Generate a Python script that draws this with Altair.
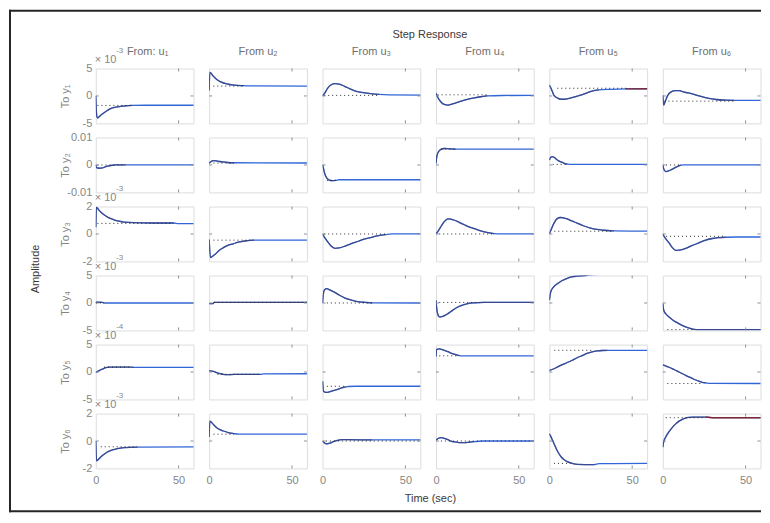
import altair as alt
import pandas as pd

# ---------------- values ----------------
T_END = 59
X_TICKS = [0, 50]
TITLE = "Step Response"
X_TITLE = "Time (sec)"
Y_TITLE = "Amplitude"
FROM_LABELS = ["From: u₁", "From u₂", "From u₃", "From u₄", "From u₅", "From u₆"]
TO_LABELS = ["To y₁", "To y₂", "To y₃", "To y₄", "To y₅", "To y₆"]
Y_LIMITS = [5, 0.01, 2, 5, 5, 2]
Y_LABELS = [["-5", "0", "5"], ["-0.01", "0", "0.01"], ["-2", "0", "2"],
            ["-5", "0", "5"], ["-5", "0", "5"], ["-2", "0", "2"]]
EXPONENTS = ["-3", "", "-3", "-3", "-4", "-3"]

# step responses (time, amplitude in the units of each row's axis)
S11 = [[0, 0], [0.3, -2.5], [0.9, -4.0], [2, -3.8], [3.5, -3.4], [5, -3.05], [7, -2.65], [9, -2.3],
       [12, -2.05], [15, -1.9], [18, -1.8], [22, -1.73], [30, -1.7], [61, -1.7]]
S12 = [[0, 1.0], [0.4, 4.3], [1, 4.2], [2.5, 3.6], [4.6, 3.0], [7, 2.55], [10.6, 2.2], [14, 2.0],
       [17, 1.92], [21, 1.87], [25, 1.82], [61, 1.8]]
S13 = [[0, 0], [1.5, 0.6], [3, 1.4], [5, 2.0], [7.6, 2.24], [10, 2.15], [13, 1.8], [17.6, 1.16],
       [21, 0.8], [25.7, 0.55], [30, 0.38], [34, 0.28], [40, 0.2], [61, 0.15]]
S14 = [[0, 0.5], [1, -0.2], [3, -1.1], [5, -1.55], [7.2, -1.67], [10, -1.45], [15.2, -0.95],
       [19, -0.62], [23.2, -0.35], [27, -0.15], [31, 0.0], [40, 0.08], [61, 0.1]]
S15 = [[0, 2.0], [1, 1.4], [2.8, 0.1], [5, -0.4], [7, -0.6], [9, -0.6], [12, -0.45], [16.8, -0.05],
       [20, 0.25], [23, 0.6], [26.8, 0.95], [30, 1.1], [36.8, 1.2], [46, 1.28], [61, 1.3]]
S16 = [[0, 0.1], [0.6, -1.67], [1.5, -1.0], [3, 0.1], [5, 0.75], [7.8, 0.98], [10, 0.95], [13, 0.7],
       [17.8, 0.38], [22, 0.0], [27.8, -0.46], [32, -0.65], [37.9, -0.77], [43, -0.8], [61, -0.8]]

S21 = [[0, 0], [0.5, -0.0010], [2, -0.0012], [4, -0.0011], [6, -0.0006], [9, -0.0002], [12, 0], [18, 0], [61, 0]]
S22 = [[0, 0.0006], [1, 0.0012], [2.6, 0.0016], [5, 0.0014], [8, 0.0011], [11, 0.0009],
       [15, 0.0008], [61, 0.0007]]
S23 = [[0, 0], [0.5, -0.0012], [1.5, -0.0035], [2.6, -0.0048], [4, -0.0055], [5.5, -0.0057],
       [8, -0.0056], [10, -0.0054], [61, -0.0054]]
S24 = [[0, 0.0006], [0.5, 0.0030], [1.5, 0.0048], [3.2, 0.0058], [5, 0.0060], [8, 0.0059],
       [12, 0.0058], [61, 0.0058]]
S25 = [[0, 0.0018], [0.8, 0.0028], [1.8, 0.0030], [3, 0.0027], [5, 0.0017], [7, 0.0011],
       [9, 0.0006], [11, 0.0003], [15, 0.0002], [61, 0.0002]]
S26 = [[0, 0], [0.6, -0.0015], [1.8, -0.0024], [3.5, -0.0022], [5.8, -0.0015], [8, -0.0008],
       [11, -0.0001], [13, 0], [61, 0]]

S31 = [[0, 0.5], [0.4, 1.95], [1.5, 1.8], [3, 1.6], [5, 1.4], [8, 1.17], [11, 1.03], [14, 0.93],
       [17, 0.86], [23, 0.82], [35, 0.8], [47, 0.8], [50, 0.76], [61, 0.75]]
S32 = [[0, -0.4], [0.8, -1.73], [2, -1.62], [3.6, -1.48], [6, -1.2], [8.6, -1.0], [11, -0.85],
       [14.6, -0.72], [17, -0.62], [20.6, -0.53], [27, -0.45], [61, -0.45]]
S33 = [[0, 0], [1.5, -0.3], [3.6, -0.65], [5.5, -0.92], [7.6, -1.05], [10, -1.02], [13.6, -0.88],
       [17, -0.72], [21.6, -0.53], [25, -0.38], [29.6, -0.24], [33, -0.14], [38, -0.05], [42, 0], [61, 0]]
S34 = [[0, 0], [1.5, 0.25], [3.2, 0.58], [5, 0.9], [7.2, 1.1], [9, 1.08], [11.2, 1.0], [14, 0.85],
       [17.2, 0.67], [20, 0.52], [23.2, 0.39], [26, 0.26], [29.2, 0.15], [35, 0.03], [40, 0], [61, 0]]
S35 = [[0, 0], [1, 0.3], [2.8, 0.79], [4.5, 1.1], [6.8, 1.2], [8.5, 1.18], [10.8, 1.1], [13.5, 0.95],
       [16.8, 0.79], [20.5, 0.6], [24.8, 0.43], [28.5, 0.33], [32.8, 0.27], [39, 0.22], [61, 0.2]]
S36 = [[0, 0], [1.5, -0.3], [3.8, -0.65], [5.8, -1.0], [7.8, -1.2], [10, -1.18], [13.8, -1.05],
       [17.5, -0.85], [21.8, -0.65], [25.5, -0.47], [29.9, -0.33], [33.5, -0.27], [38, -0.24],
       [45, -0.22], [61, -0.22]]

S41 = [[0, 0], [0.5, 0.15], [4, 0.1], [5, 0], [61, 0]]
S42 = [[0, -0.1], [2.4, -0.1], [3, 0.12], [61, 0.12]]
S43 = [[0, 0], [0.4, 1.5], [1.2, 2.4], [2.6, 2.6], [4, 2.45], [5.5, 2.2], [7.6, 1.9], [10, 1.45],
       [13.6, 0.9], [16.5, 0.6], [19.6, 0.36], [22.5, 0.2], [25.6, 0.12], [30, 0.03], [61, 0]]
S44 = [[0, 0.5], [0.6, -1.33], [1.4, -2.3], [2.2, -2.55], [4, -2.45], [7.2, -1.94], [10, -1.35],
       [13.2, -0.73], [16, -0.38], [19.2, -0.12], [23, 0.02], [29, 0.1], [61, 0.1]]
S45 = [[0, 0.5], [0.8, 2.0], [2.5, 2.9], [4.8, 3.5], [7.5, 4.05], [10.8, 4.5], [13.5, 4.75],
       [16.8, 4.9], [23, 5.05], [30, 5.2], [40, 5.3], [61, 5.3]]
S46 = [[0, -0.1], [0.6, -1.33], [2, -2.05], [3.8, -2.55], [5.8, -3.05], [7.8, -3.45], [10.8, -3.95],
       [13.8, -4.36], [16, -4.6], [18.8, -4.8], [22, -4.85], [61, -4.85]]

S51 = [[0, 0], [1.5, 0.15], [3, 0.42], [5, 0.68], [7, 0.83], [9, 0.88], [11, 0.9], [20, 0.9],
       [23, 0.85], [61, 0.83]]
S52 = [[0, 0.25], [2.6, 0.1], [4.5, -0.1], [6.6, -0.3], [8.5, -0.42], [10.6, -0.48], [15, -0.45],
       [31, -0.42], [33, -0.33], [61, -0.32]]
S53 = [[0, -1.7], [0.6, -3.5], [2, -3.7], [3.6, -3.66], [5.5, -3.5], [7.6, -3.3], [9.5, -3.1],
       [11.6, -2.9], [14, -2.72], [15.6, -2.64], [20, -2.6], [61, -2.6]]
S54 = [[0, 2.8], [0.4, 4.1], [2, 4.2], [4.5, 4.0], [7.2, 3.7], [10, 3.35], [14, 3.0], [16, 2.95], [61, 2.95]]
S55 = [[0, 0.3], [2, 0.5], [4.8, 0.9], [7.5, 1.3], [10.8, 1.73], [13.8, 2.15], [16.8, 2.6], [19.8, 3.0],
       [22.8, 3.4], [25.8, 3.68], [28.8, 3.84], [31.8, 3.92], [35, 3.96], [61, 3.96]]
S56 = [[0, 1.3], [1.8, 1.1], [3.8, 0.87], [6.8, 0.45], [9.8, 0], [12.8, -0.45], [15.8, -0.9],
       [18.8, -1.32], [21.8, -1.68], [23.8, -1.88], [26, -1.98], [29, -2.08], [61, -2.1]]

S61 = [[0, 0], [0.5, -1.45], [1.5, -1.35], [3, -1.16], [5, -0.97], [7, -0.8], [10, -0.65], [13, -0.55],
       [17, -0.48], [25, -0.44], [61, -0.42]]
S62 = [[0, 0.3], [0.4, 1.45], [1.5, 1.35], [3, 1.15], [4.6, 0.97], [6.5, 0.83], [8.6, 0.73],
       [11.5, 0.62], [15, 0.54], [18, 0.5], [61, 0.5]]
S63 = [[0, 0], [1, -0.12], [2.6, -0.2], [4.5, -0.15], [6.5, -0.05], [9, 0.05], [11.6, 0.1], [15, 0.1],
       [30, 0.08], [61, 0.08]]
S64 = [[0, 0.05], [1.5, 0.2], [3.2, 0.25], [5, 0.2], [7.2, 0.1], [9, 0.0], [11.2, -0.07], [14, -0.11],
       [17.2, -0.12], [20, -0.09], [23, -0.05], [28, 0], [61, 0]]
S65 = [[0, 0.53], [1, 0.3], [2.8, -0.2], [4.3, -0.6], [5.8, -0.93], [7.3, -1.18], [8.8, -1.34],
       [10.8, -1.5], [12.8, -1.6], [14.8, -1.67], [16.8, -1.7], [27, -1.72], [30, -1.65], [61, -1.63]]
S66 = [[0, -0.44], [0.5, -0.1], [1.8, 0.29], [3.8, 0.68], [5.8, 1.0], [7.8, 1.25], [9.8, 1.45],
       [11.8, 1.58], [13.8, 1.67], [15.8, 1.72], [17.8, 1.75], [26, 1.75], [30, 1.7], [61, 1.7]]

# steady-state (dotted) value per panel, row by row
SS1 = [-1.73, 1.8, 0.1, 0.2, 1.4, -0.95]
SS2 = [0, 0.0007, -0.0056, 0.0058, 0.0002, 0]
SS3 = [0.77, -0.45, 0, 0, 0.2, -0.17]
SS4 = [0, 0.12, 0, 0.1, 5.3, -4.85]
SS5 = [0.9, -0.42, -2.6, 2.95, 3.96, -2.1]
SS6 = [-0.42, 0.5, 0, 0, -1.63, 1.7]
# time span of the dotted line
DOT1 = [[1, 22], [2.5, 21], [1, 34], [1, 31], [4.8, 47], [1, 43]]
DOT2 = [[1, 18], [2.6, 15], [2.6, 8], [3.2, 12], [2, 11], [2, 11]]
DOT3 = [[1, 47], [2.6, 27], [1, 38], [2, 35], [3, 39], [2, 38]]
DOT4 = [[0, 5], [3, 61], [2.6, 30], [2, 29], [3, 61], [2.8, 18.8]]
DOT5 = [[5, 20], [5, 31], [2.6, 14], [2, 14], [3, 25.8], [2.8, 23.8]]
DOT6 = [[3, 25], [2.6, 15], [2, 61], [3, 61], [2.8, 12.8], [1.8, 26]]
# end of the darker (second system) trace
DARK1 = [22, 21, 34, 31, 30, 43]
DARK2 = [18, 15, 8, 12, 11, 11]
DARK3 = [47, 27, 38, 35, 39, 38]
DARK4 = [5, 61, 30, 61, 23, 61]
DARK5 = [23, 31, 14, 14, 35, 26]
DARK6 = [25, 15, 30, 23, 27, 26]
# dark-red end segments
RED_SEGMENTS = {(0, 4): [46, 61], (5, 5): [26, 61]}

CURVES = [[S11, S12, S13, S14, S15, S16], [S21, S22, S23, S24, S25, S26],
          [S31, S32, S33, S34, S35, S36], [S41, S42, S43, S44, S45, S46],
          [S51, S52, S53, S54, S55, S56], [S61, S62, S63, S64, S65, S66]]
SS = [SS1, SS2, SS3, SS4, SS5, SS6]
DOT = [DOT1, DOT2, DOT3, DOT4, DOT5, DOT6]
DARK = [DARK1, DARK2, DARK3, DARK4, DARK5, DARK6]

# ---------------- style ----------------
FONT = "Liberation Sans"
PW, PH = 98, 55
COL_GAP, ROW_GAP = 15.7, 14.2
MID_X = 107.6          # centre of the figure, measured from the left edge of column 3
BLUE = "#3066d6"
DARKC = "#3d3d75"
REDC = "#7c2634"
DOTC = "#2a2a2a"
BORDER = "#8a929c"
LABEL = "#858585"
HEAD = "#6e6e6e"
TEXT = "#3a3a3a"
FRAMEC = "#262626"

one = pd.DataFrame({"k": [0]})


def note(text, x, y, size=11, color=LABEL, align="center", angle=0):
    kw = dict(align=align, baseline="middle", fontSize=size, font=FONT, color=color)
    if angle:
        kw["angle"] = angle
    return alt.Chart(one).mark_text(**kw).encode(x=alt.value(x), y=alt.value(y), text=alt.value(text))


def frame_bar(x1, y1, x2, y2):
    # one side of the outer figure border, drawn as a thin filled bar
    return alt.Chart(one).mark_rect(color=FRAMEC, strokeWidth=0).encode(
        x=alt.value(x1), y=alt.value(y1), x2=alt.value(x2), y2=alt.value(y2))


def panel(r, c):
    lim = Y_LIMITS[r]
    xs = alt.Scale(domain=[0, T_END], nice=False, zero=False)
    ys = alt.Scale(domain=[-lim, lim], nice=False, zero=False)
    if r == 5:
        xa = dict(values=X_TICKS, format="d", labelFlush=False, ticks=False, tickSize=0, domain=False,
                  grid=False, labelPadding=6, labelColor=LABEL, labelFontSize=11, labelFont=FONT,
                  title=None)
        if c == 2:
            xa.update(title=X_TITLE, titleX=MID_X, titleY=30, titleAlign="center", titleBaseline="middle",
                      titleColor=TEXT, titleFontSize=11, titleFontWeight="normal", titleFont=FONT)
        xaxis = alt.Axis(**xa)
    else:
        xaxis = None
    if c == 0:
        lo, mid, hi = Y_LABELS[r]
        yaxis = alt.Axis(values=[-lim, 0, lim],
                         labelExpr=f"datum.value > 0 ? '{hi}' : (datum.value < 0 ? '{lo}' : '{mid}')",
                         labelFlush=False, ticks=False, tickSize=0, domain=False, grid=False,
                         labelPadding=4, labelColor=LABEL, labelFontSize=11, labelFont=FONT,
                         title=TO_LABELS[r], titleX=-30, titleY=PH / 2, titleAngle=270,
                         titleAlign="center", titleBaseline="middle", titleColor=LABEL,
                         titleFontSize=11, titleFontWeight="normal", titleFont=FONT)
    else:
        yaxis = None

    def X(f):
        return alt.X(f, type="quantitative", scale=xs, axis=xaxis)

    def Y(f):
        return alt.Y(f, type="quantitative", scale=ys, axis=yaxis)

    df = pd.DataFrame(CURVES[r][c], columns=["t", "v"])
    layers = [
        alt.Chart(df).mark_line(color=BLUE, strokeWidth=1.3, clip=True, interpolate="monotone")
        .encode(x=X("t"), y=Y("v")),
        alt.Chart(df[df.t <= DARK[r][c]]).mark_line(color=DARKC, strokeWidth=1.3, opacity=0.7, clip=True,
                                                     interpolate="monotone")
        .encode(x=X("t"), y=Y("v")),
    ]
    if (r, c) in RED_SEGMENTS:
        a, b = RED_SEGMENTS[(r, c)]
        layers.append(alt.Chart(df[(df.t >= a) & (df.t <= b)])
                      .mark_line(color=REDC, strokeWidth=1.4, clip=True)
                      .encode(x=X("t"), y=Y("v")))
    dot = pd.DataFrame({"t0": [DOT[r][c][0]], "t1": [DOT[r][c][1]], "ss": [SS[r][c]]})
    layers.append(alt.Chart(dot).mark_rule(color=DOTC, strokeDash=[1, 3], strokeWidth=1, clip=True)
                  .encode(x=X("t0"), x2="t1", y=Y("ss")))
    # small inner tick marks of the box
    xt = pd.DataFrame({"t": [X_TICKS[1]]})
    yt = pd.DataFrame({"v": [0]})
    layers += [
        alt.Chart(xt).mark_rule(color=BORDER).encode(x=X("t"), y=alt.value(0), y2=alt.value(3)),
        alt.Chart(xt).mark_rule(color=BORDER).encode(x=X("t"), y=alt.value(PH - 3), y2=alt.value(PH)),
        alt.Chart(yt).mark_rule(color=BORDER).encode(y=Y("v"), x=alt.value(0), x2=alt.value(3)),
        alt.Chart(yt).mark_rule(color=BORDER).encode(y=Y("v"), x=alt.value(PW - 3), x2=alt.value(PW)),
    ]
    if r == 0:
        layers.append(note(FROM_LABELS[c], PW / 2 + (3 if c == 0 else 0), -17, color=HEAD))
    if r == 0 and c == 2:
        layers.append(note(TITLE, MID_X, -34, color=TEXT))
    if c == 0 and EXPONENTS[r]:
        layers += [
            note("× 10", -1, -8.5, align="left"),
            note(EXPONENTS[r], 20.5, -17.5, size=8, align="left"),
        ]
    if r == 3 and c == 0:
        layers.append(note(Y_TITLE, -60, -6.6, color=TEXT, angle=270))
    if r == 0 and c == 0:
        layers += [
            frame_bar(-87, -59, -85, 445),
            frame_bar(-87, -59, 667, -57),
            frame_bar(-87, 443, 667, 445),
        ]
    return alt.layer(*layers).properties(width=PW, height=PH)


panels = [panel(r, c) for r in range(6) for c in range(6)]

chart = alt.concat(*panels, columns=6, spacing={"row": ROW_GAP, "column": COL_GAP}, bounds="flush").properties(
    padding=0,
).configure_view(stroke=BORDER, strokeWidth=1).configure(font=FONT, background="white")

chart.save("out.html", embed_options={"renderer": "svg", "actions": False})
